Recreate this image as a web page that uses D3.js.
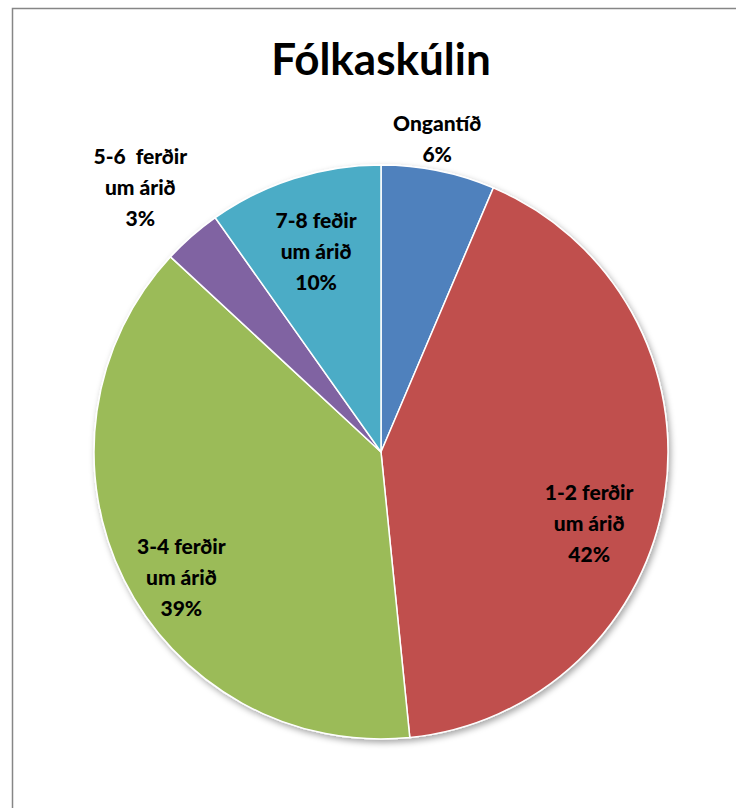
<!DOCTYPE html>
<html>
<head>
<meta charset="utf-8">
<script src="https://cdn.jsdelivr.net/npm/d3@7"></script>
<style>
  body { margin: 0; background: #fff; }
  svg { display: block; }
</style>
</head>
<body>
<script>
const width = 736, height = 808;

// data
const categories = ['Ongantíð', '1-2 ferðir um árið', '3-4 ferðir um árið', '5-6  ferðir um árið', '7-8 feðir um árið'];
const labelLines = [['Ongantíð'], ['1-2 ferðir', 'um árið'], ['3-4 ferðir', 'um árið'], ['5-6  ferðir', 'um árið'], ['7-8 feðir', 'um árið']];
const values = [6.4, 42.0, 38.5, 3.3, 9.8];
const colors = ['#4F81BD', '#C0504D', '#9BBB59', '#8064A2', '#4BACC6'];

// label placement (angle in degrees clockwise from top, distance as fraction of radius)
const labelAngle = [10.2, 109, 237.8, 317.6, 342];
const labelDist = [1.105, 0.767, 0.822, 1.244, 0.732];

const cx = 381, cy = 452, radius = 287;
const font = 'Lato, "Open Sans", sans-serif';

const svg = d3.select('body').append('svg')
  .attr('width', width)
  .attr('height', height);

const defs = svg.append('defs');
const f = defs.append('filter').attr('id', 'shadow')
  .attr('x', '-10%').attr('y', '-10%').attr('width', '125%').attr('height', '125%');
f.append('feDropShadow')
  .attr('dx', 2).attr('dy', 3).attr('stdDeviation', 3)
  .attr('flood-color', '#000').attr('flood-opacity', 0.35);

// chart frame
svg.append('rect')
  .attr('x', 12.5).attr('y', 8.5)
  .attr('width', 760).attr('height', 820)
  .attr('fill', '#fff')
  .attr('stroke', '#868686')
  .attr('stroke-width', 1.5);

svg.append('text')
  .attr('x', cx).attr('y', 75)
  .attr('text-anchor', 'middle')
  .attr('font-family', font)
  .attr('font-weight', 'bold')
  .attr('font-size', 44)
  .attr('fill', '#000')
  .text('Fólkaskúlin');

const pie = d3.pie().sort(null).value(d => d);
const arcs = pie(values);
const arc = d3.arc().innerRadius(0).outerRadius(radius);

const g = svg.append('g').attr('transform', `translate(${cx},${cy})`);

g.append('g')
  .attr('filter', 'url(#shadow)')
  .selectAll('path')
  .data(arcs)
  .join('path')
  .attr('d', arc)
  .attr('fill', (d, i) => colors[i])
  .attr('stroke', '#fff')
  .attr('stroke-width', 1.5);

const lineH = 31;
const labels = g.append('g')
  .selectAll('text')
  .data(arcs)
  .join('text')
  .attr('text-anchor', 'middle')
  .attr('font-family', font)
  .attr('font-weight', 900)
  .attr('font-size', 21)
  .attr('fill', '#000')
  .attr('transform', (d, i) => {
    const a = labelAngle[i] * Math.PI / 180;
    const r = labelDist[i] * radius;
    return `translate(${r * Math.sin(a)},${-r * Math.cos(a)})`;
  });

labels.each(function(d, i) {
  const lines = labelLines[i].concat([Math.round(values[i]) + '%']);
  const t = d3.select(this);
  const y0 = -(lines.length - 1) * lineH / 2 + 7;
  lines.forEach((s, j) => {
    t.append('tspan')
      .attr('x', 0)
      .attr('y', y0 + j * lineH)
      .attr('xml:space', 'preserve')
      .style('white-space', 'pre')
      .text(s);
  });
});
</script>
</body>
</html>
